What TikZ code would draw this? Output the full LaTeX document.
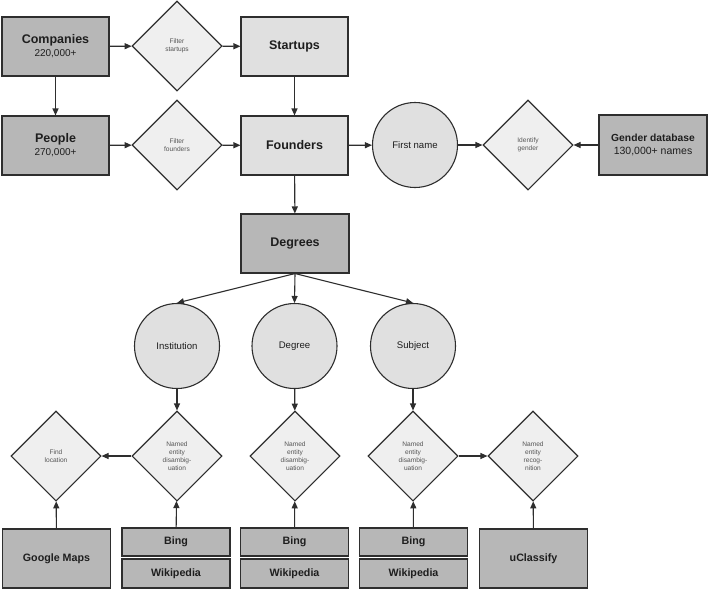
\documentclass[tikz,border=0pt]{standalone}
\usepackage{fontspec}
\setmainfont{Liberation Sans}
\usetikzlibrary{shapes.geometric,arrows.meta}
\definecolor{dk}{HTML}{B7B7B7}
\definecolor{lt}{HTML}{E0E0E0}
\definecolor{dm}{HTML}{EFEFEF}
\definecolor{ln}{HTML}{2E2E2E}
\definecolor{tx}{HTML}{1E1E1E}
\definecolor{sm}{HTML}{555555}
\tikzset{
  base/.style={draw=ln, line width=1.1pt, text=tx, inner sep=0pt, align=center},
  darkbox/.style={base, fill=dk, minimum width=107pt, minimum height=59pt},
  lightbox/.style={base, fill=lt, minimum width=107pt, minimum height=59pt},
  srcbox/.style={base, fill=dk, minimum width=108pt},
  dia/.style={base, fill=dm, diamond, minimum width=90pt, minimum height=90pt, text=sm, font=\fontsize{6.6}{8.2}\selectfont},
  circ/.style={base, fill=lt, circle, minimum size=85pt, font=\fontsize{9.6}{11}\selectfont},
  big/.style={font=\fontsize{12.5}{14}\selectfont\bfseries},
  arr/.style={draw=ln, line width=1.1pt, -{Triangle[length=7pt,width=6pt]}}
}
\begin{document}
\begin{tikzpicture}[x=1pt,y=-1pt]
\useasboundingbox (0,0) rectangle (708,590);
% top rows
\node[darkbox] (comp) at (55.5,46.5) {{\fontsize{12.5}{14}\selectfont\bfseries Companies}\\[1pt]{\fontsize{10}{12}\selectfont 220,000+}};
\node[dia] (fs) at (177,46) {Filter\\startups};
\node[lightbox, big] (start) at (294.5,46.5) {Startups};
\node[darkbox] (people) at (55.5,145.5) {{\fontsize{12.5}{14}\selectfont\bfseries People}\\[1pt]{\fontsize{10}{12}\selectfont 270,000+}};
\node[dia] (ff) at (177,145) {Filter\\founders};
\node[lightbox, big] (found) at (294.5,145.5) {Founders};
\node[circ] (fname) at (415,145) {First name};
\node[dia] (ig) at (528,145) {Identify\\gender};
\node[darkbox, minimum width=108pt, minimum height=60pt] (gdb) at (653,145) {{\fontsize{10.3}{12}\selectfont\bfseries Gender database}\\[1pt]{\fontsize{10.5}{12}\selectfont 130,000+ names}};
% degrees
\node[darkbox, big, minimum width=108pt] (deg) at (295,243.5) {Degrees};
\node[circ] (inst) at (177,346) {Institution};
\node[circ] (degc) at (294.5,346) {Degree};
\node[circ] (subj) at (413,346) {Subject};
% bottom diamonds
\node[dia] (fl) at (56,456) {Find\\location};
\node[dia] (ned1) at (177,456) {Named\\entity\\disambig-\\uation};
\node[dia] (ned2) at (295,456) {Named\\entity\\disambig-\\uation};
\node[dia] (ned3) at (413,456) {Named\\entity\\disambig-\\uation};
\node[dia] (ner) at (533,456) {Named\\entity\\recog-\\nition};
% sources
\tikzset{srcfont/.style={font=\fontsize{10.7}{12}\selectfont\bfseries}}
\node[srcbox, srcfont, minimum height=59pt] (gm) at (56.5,558.5) {Google Maps};
\node[srcbox, srcfont, minimum height=28pt] (bing1) at (176,542) {Bing};
\node[srcbox, srcfont, minimum height=29pt] (wiki1) at (176,573.5) {Wikipedia};
\node[srcbox, srcfont, minimum height=28pt] (bing2) at (294.5,542) {Bing};
\node[srcbox, srcfont, minimum height=29pt] (wiki2) at (294.5,573.5) {Wikipedia};
\node[srcbox, srcfont, minimum height=28pt] (bing3) at (413.5,542) {Bing};
\node[srcbox, srcfont, minimum height=29pt] (wiki3) at (413.5,573.5) {Wikipedia};
\node[srcbox, srcfont, minimum height=59pt] (ucl) at (533.5,558.5) {uClassify};
% connectors
\draw[arr] (comp) -- (fs);
\draw[arr] (fs) -- (start);
\draw[arr] (comp) -- (people);
\draw[arr] (people) -- (ff);
\draw[arr] (ff) -- (found);
\draw[arr] (start) -- (found);
\draw[arr] (found) -- (fname);
\draw[arr] (fname) -- (ig);
\draw[arr] (gdb) -- (ig);
\draw[arr] (found) -- (deg);
\draw[arr] (deg.south) -- (inst.north);
\draw[arr] (deg.south) -- (degc.north);
\draw[arr] (deg.south) -- (subj.north);
\draw[arr] (inst) -- (ned1);
\draw[arr] (degc) -- (ned2);
\draw[arr] (subj) -- (ned3);
\draw[arr] (ned1) -- (fl);
\draw[arr] (ned3) -- (ner);
\draw[arr] (gm) -- (fl);
\draw[arr] (bing1) -- (ned1);
\draw[arr] (bing2) -- (ned2);
\draw[arr] (bing3) -- (ned3);
\draw[arr] (ucl) -- (ner);
\end{tikzpicture}
\end{document}
